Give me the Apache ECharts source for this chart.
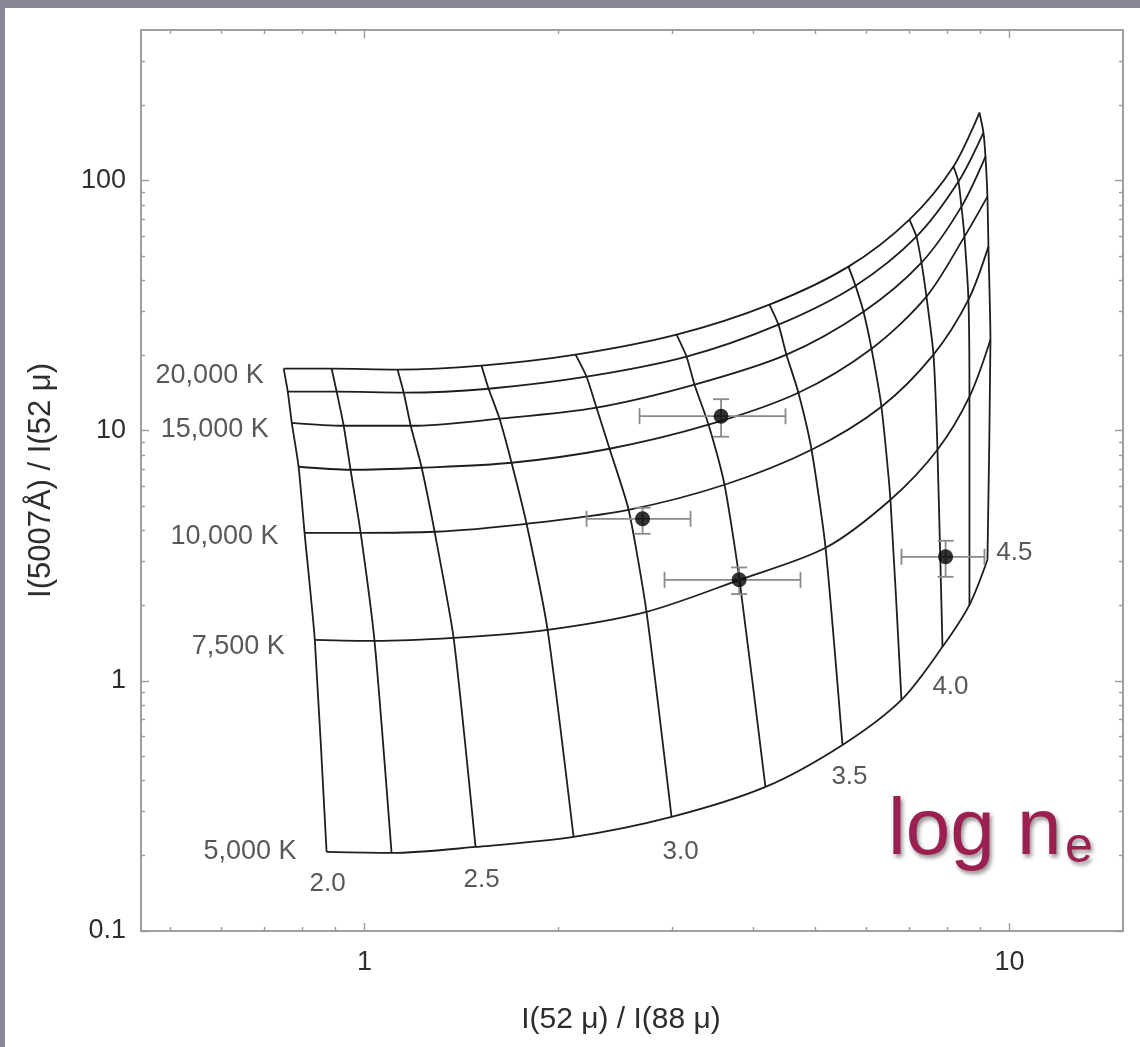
<!DOCTYPE html>
<html>
<head>
<meta charset="utf-8">
<script src="https://cdn.jsdelivr.net/npm/echarts@6/dist/echarts.min.js"></script>
<style>
html,body{margin:0;padding:0;background:#ffffff;}
#chart{width:1140px;height:1047px;}
</style>
</head>
<body>
<div id="chart"></div>
<script>
// ---------------- DATA ----------------
// electron density (log ne) of the model grid lines
const densities = [2.0, 2.25, 2.5, 2.75, 3.0, 3.25, 3.5, 3.75, 4.0, 4.25, 4.5];
const temperatures = [20000, 17500, 15000, 12500, 10000, 7500, 5000];

// I(52 μ)/I(88 μ) (x) and I(5007)/I(52 μ) (y) along each temperature curve
const x_T20000 = [0.749, 0.889, 1.125, 1.518, 2.124, 3.046, 4.244, 5.628, 6.997, 8.188, 8.984];
const y_T20000 = [17.70, 17.70, 17.54, 18.20, 20.14, 24.21, 31.92, 45.29, 69.82, 113.8, 187.1];
const x_T17500 = [0.760, 0.905, 1.150, 1.557, 2.209, 3.157, 4.383, 5.771, 7.174, 8.335, 9.113];
const y_T17500 = [14.32, 14.32, 14.19, 14.72, 16.44, 19.77, 26.55, 38.02, 59.70, 99.08, 155.6];
const x_T15000 = [0.771, 0.928, 1.179, 1.619, 2.289, 3.248, 4.510, 5.938, 7.304, 8.425, 9.179];
const y_T15000 = [10.76, 10.47, 10.47, 11.17, 12.36, 15.28, 20.14, 29.92, 46.99, 78.70, 124.7];
const x_T12500 = [0.790, 0.951, 1.226, 1.690, 2.398, 3.415, 4.707, 6.110, 7.435, 8.516, 9.244];
const y_T12500 = [7.178, 6.982, 7.112, 7.447, 8.472, 10.57, 14.19, 21.28, 34.36, 59.70, 86.30];
const x_T10000 = [0.807, 0.986, 1.284, 1.783, 2.567, 3.615, 4.933, 6.331, 7.624, 8.638, 9.277];
const y_T10000 = [3.908, 3.908, 3.945, 4.246, 4.831, 6.081, 8.395, 12.47, 20.14, 33.42, 54.45];
const x_T7500  = [0.837, 1.036, 1.374, 1.922, 2.736, 3.814, 5.186, 6.538, 7.733, 8.669, 9.344];
const y_T7500  = [1.459, 1.445, 1.486, 1.600, 1.888, 2.535, 3.404, 5.297, 8.395, 13.68, 23.12];
const x_T5000  = [0.873, 1.101, 1.486, 2.109, 2.992, 4.184, 5.509, 6.800, 7.873, 8.669, 9.244];
const y_T5000  = [0.2070, 0.2051, 0.2168, 0.2377, 0.2858, 0.3767, 0.5546, 0.8395, 1.368, 2.014, 3.048];

// labelled temperature curves / density lines
const tempLabelIndex = [0, 2, 4, 5, 6];
const tempLabels = ['20,000 K', '15,000 K', '10,000 K', '7,500 K', '5,000 K'];
const densLabelIndex = [0, 2, 4, 6, 8, 10];
const densLabels = ['2.0', '2.5', '3.0', '3.5', '4.0', '4.5'];

// observed points with error bars
const obsX     = [3.571, 2.698, 3.809, 7.961];
const obsY     = [11.43, 4.446, 2.535, 3.133];
const obsXLow  = [2.669, 2.209, 2.918, 6.800];
const obsXHigh = [4.495, 3.202, 4.742, 9.146];
const obsYLow  = [9.462, 3.873, 2.223, 2.606];
const obsYHigh = [13.37, 4.920, 2.840, 3.631];

// axis ticks
const xMajorTicks = [1, 10];
const xMinorTicks = [0.5, 0.6, 0.7, 0.8, 0.9, 2, 3, 4, 5, 6, 7, 8, 9];
const xTickLabels = ['1', '10'];
const yMajorTicks = [0.1, 1, 10, 100];
const yMinorTicks = [0.2, 0.3, 0.4, 0.5, 0.6, 0.7, 0.8, 0.9, 2, 3, 4, 5, 6, 7, 8, 9, 20, 30, 40, 50, 60, 70, 80, 90, 200, 300];
const yTickLabels = ['0.1', '1', '10', '100'];

// ---------------- STYLE ----------------
const FONT = '"Liberation Sans", Arial, Helvetica, sans-serif';
const frameColor = '#9a9a9a';
const gridColor = '#1e1e1e';
const textColor = '#2e2e2e';
const tempLabelOffsets = [[-15, 7], [-18, 7], [-21, 4], [-25, 7], [-25, 0]];
const densLabelOffsets = [[1, 32], [6, 33], [9, 35], [7, 32], [8, 40], [27, -7]];

const rowsX = [x_T20000, x_T17500, x_T15000, x_T12500, x_T10000, x_T7500, x_T5000];
const rowsY = [y_T20000, y_T17500, y_T15000, y_T12500, y_T10000, y_T7500, y_T5000];

function pickLabel(v, ticks, labels) {
  let best = 0, bd = Infinity;
  ticks.forEach((t, i) => { const d = Math.abs(Math.log10(v) - Math.log10(t)); if (d < bd) { bd = d; best = i; } });
  return labels[best];
}

function xAxisDef(position, ticks, len, withLabels, extra) {
  return Object.assign({
    type: 'log', logBase: 10, min: 0.45, max: 15, position: position,
    axisLine: { show: true, onZero: false, lineStyle: { color: frameColor, width: 1.6 } },
    axisTick: { show: true, inside: true, length: len, customValues: ticks, lineStyle: { color: frameColor, width: 1.4 } },
    axisLabel: withLabels ? {
      show: true, customValues: xMajorTicks, margin: 18, fontSize: 27, color: textColor, fontFamily: FONT,
      formatter: v => pickLabel(v, xMajorTicks, xTickLabels)
    } : { show: false },
    splitLine: { show: false }
  }, extra || {});
}
function yAxisDef(position, ticks, len, withLabels, extra) {
  return Object.assign({
    type: 'log', logBase: 10, min: 0.1, max: 400, position: position,
    axisLine: { show: true, onZero: false, lineStyle: { color: frameColor, width: 1.6 } },
    axisTick: { show: true, inside: true, length: len, customValues: ticks, lineStyle: { color: frameColor, width: 1.4 } },
    axisLabel: withLabels ? {
      show: true, customValues: yMajorTicks, margin: 15, fontSize: 27, color: textColor, fontFamily: FONT,
      formatter: v => pickLabel(v, yMajorTicks, yTickLabels)
    } : { show: false },
    splitLine: { show: false }
  }, extra || {});
}

const series = [];
// temperature curves
rowsX.forEach((xs, i) => {
  series.push({
    type: 'line', name: temperatures[i] + ' K', smooth: 0.3, symbol: 'none', silent: true,
    data: xs.map((x, j) => [x, rowsY[i][j]]),
    lineStyle: { color: gridColor, width: 1.8 }, z: 2
  });
});
// density lines
densities.forEach((d, j) => {
  series.push({
    type: 'line', name: 'log ne ' + d, smooth: 0.2, symbol: 'none', silent: true,
    data: rowsX.map((xs, i) => [xs[j], rowsY[i][j]]),
    lineStyle: { color: gridColor, width: 1.8 }, z: 2
  });
});
// temperature labels
series.push({
  type: 'scatter', symbolSize: 0, silent: true, z: 5,
  data: tempLabelIndex.map((ti, k) => ({
    value: [rowsX[ti][0], rowsY[ti][0]],
    label: { show: true, formatter: tempLabels[k], position: 'left', distance: 5, offset: tempLabelOffsets[k] }
  })),
  label: { color: textColor, fontSize: 27, fontFamily: FONT }
});
// density labels
series.push({
  type: 'scatter', symbolSize: 0, silent: true, z: 5,
  data: densLabelIndex.map((di, k) => ({
    value: [x_T5000[di], y_T5000[di]],
    label: { show: true, formatter: densLabels[k], position: 'inside', offset: densLabelOffsets[k] }
  })),
  label: { color: textColor, fontSize: 26, fontFamily: FONT }
});
// error bars
series.push({
  type: 'custom', silent: true, z: 6,
  data: obsX.map((x, i) => [x, obsY[i], obsXLow[i], obsXHigh[i], obsYLow[i], obsYHigh[i]]),
  encode: { x: [0, 2, 3], y: [1, 4, 5] },
  renderItem: function (params, api) {
    const x = api.value(0), y = api.value(1);
    const pL = api.coord([api.value(2), y]), pR = api.coord([api.value(3), y]);
    const pB = api.coord([x, api.value(4)]), pT = api.coord([x, api.value(5)]);
    const c = 8;
    const st = { stroke: '#8a8a8a', lineWidth: 1.8 };
    const ln = (x1, y1, x2, y2) => ({ type: 'line', shape: { x1, y1, x2, y2 }, style: st });
    return { type: 'group', children: [
      ln(pL[0], pL[1], pR[0], pR[1]),
      ln(pL[0], pL[1] - c, pL[0], pL[1] + c),
      ln(pR[0], pR[1] - c, pR[0], pR[1] + c),
      ln(pB[0], pB[1], pT[0], pT[1]),
      ln(pB[0] - c, pB[1], pB[0] + c, pB[1]),
      ln(pT[0] - c, pT[1], pT[0] + c, pT[1])
    ]};
  }
});
// observed points
series.push({
  type: 'scatter', symbol: 'circle', symbolSize: 15, silent: true, z: 7,
  itemStyle: { color: '#000000' },
  data: obsX.map((x, i) => [x, obsY[i]])
});

const chart = echarts.init(document.getElementById('chart'), null, { renderer: 'canvas' });
chart.setOption({
  animation: false,
  backgroundColor: '#ffffff',
  grid: { left: 141, right: 17, top: 30, bottom: 116, containLabel: false, outerBoundsMode: 'none' },
  xAxis: [
    xAxisDef('bottom', xMajorTicks, 8, true, {
      name: 'I(52 μ) / I(88 μ)', nameLocation: 'middle', nameGap: 74,
      nameTextStyle: { fontSize: 30, color: textColor, fontFamily: FONT, padding: [0, 22, 0, 0] }
    }),
    xAxisDef('bottom', xMinorTicks, 4, false),
    xAxisDef('top', xMajorTicks, 8, false),
    xAxisDef('top', xMinorTicks, 4, false)
  ],
  yAxis: [
    yAxisDef('left', yMajorTicks, 8, true, {
      name: 'I(5007Å) / I(52 μ)', nameLocation: 'middle', nameGap: 84,
      nameTextStyle: { fontSize: 31, color: textColor, fontFamily: FONT }
    }),
    yAxisDef('left', yMinorTicks, 4, false),
    yAxisDef('right', yMajorTicks, 8, false),
    yAxisDef('right', yMinorTicks, 4, false)
  ],
  graphic: [
    { type: 'rect', left: 0, top: 0, shape: { width: 1140, height: 8 }, style: { fill: '#8a8898' }, silent: true },
    { type: 'rect', left: 0, top: 0, shape: { width: 5, height: 1047 }, style: { fill: '#8a8898' }, silent: true },
    { type: 'text', x: 888, y: 832, silent: true, z: 10,
      style: { text: 'log n', fontSize: 80, fontFamily: FONT, fill: '#9b1f50', align: 'left', verticalAlign: 'middle',
               textShadowColor: 'rgba(0,0,0,0.45)', textShadowBlur: 4, textShadowOffsetX: 2, textShadowOffsetY: 3 } },
    { type: 'text', x: 1065, y: 848, silent: true, z: 10,
      style: { text: 'e', fontSize: 50, fontFamily: FONT, fill: '#9b1f50', align: 'left', verticalAlign: 'middle',
               textShadowColor: 'rgba(0,0,0,0.45)', textShadowBlur: 4, textShadowOffsetX: 2, textShadowOffsetY: 3 } }
  ],
  series: series
});
</script>
</body>
</html>
